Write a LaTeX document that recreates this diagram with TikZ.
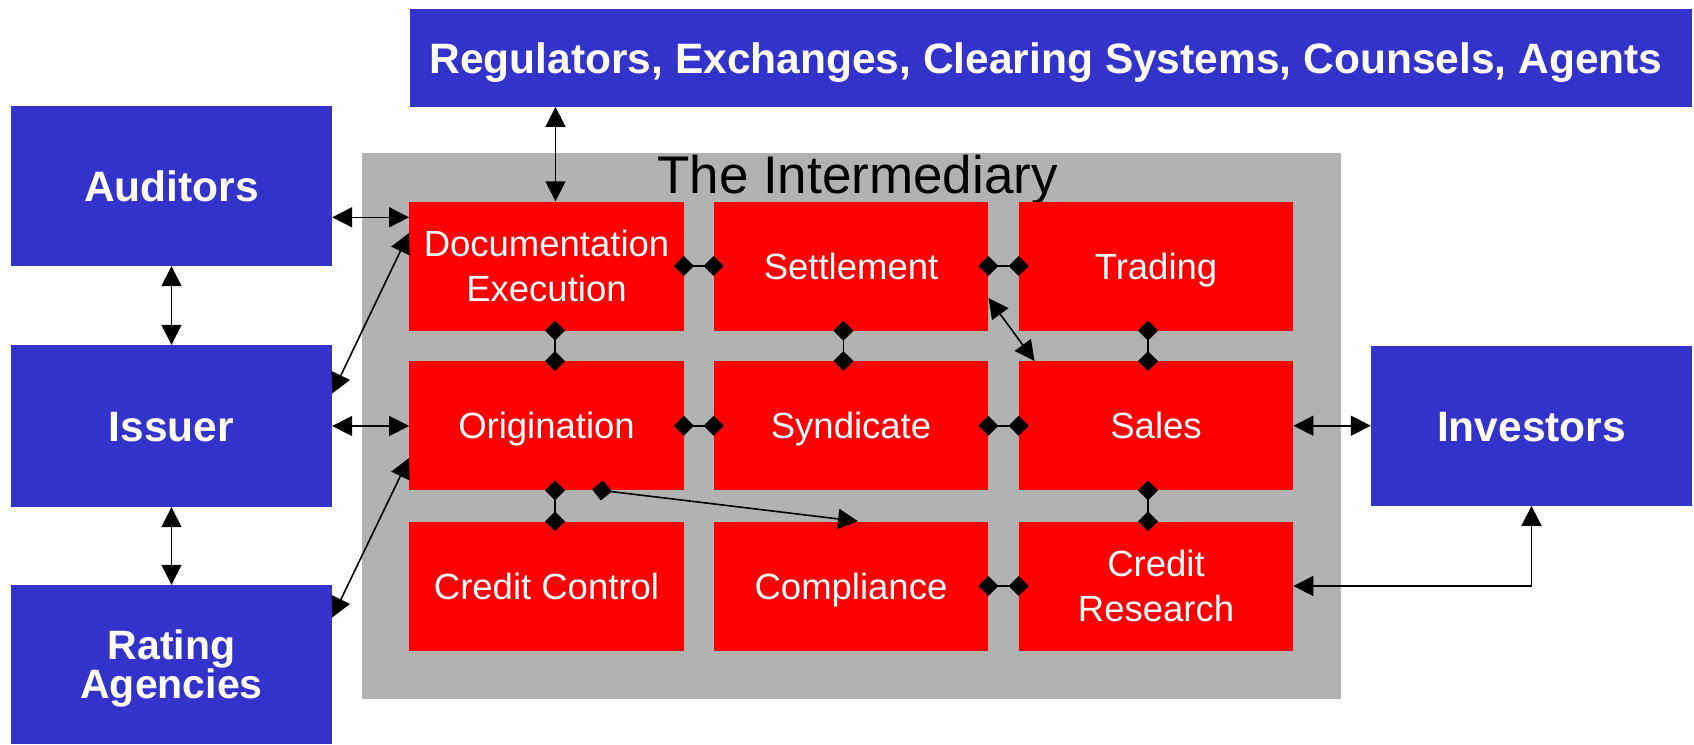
\documentclass[tikz,border=0pt]{standalone}
\usepackage{fontspec}
\setmainfont{Liberation Sans}
\usetikzlibrary{arrows.meta}

\definecolor{boxblue}{RGB}{51,51,204}
\definecolor{boxred}{RGB}{255,0,0}
\definecolor{panelgray}{RGB}{178,178,178}

% two centred lines, baseline taken from the first line, fixed line pitch
\newcommand\twoline[2]{\vtop{\lineskiplimit=-1000pt\halign{\hfil##\hfil\cr#1\cr#2\cr}}}

\tikzset{
  party/.style={fill=boxblue, text=white, inner sep=0pt,
    font=\fontsize{42.5}{34}\selectfont\bfseries,
    text height=30.4pt, text depth=0pt},
  unit/.style={fill=boxred, text=white, inner sep=0pt,
    minimum width=274.5pt, minimum height=129pt,
    font=\fontsize{36.5}{45}\selectfont,
    text height=26.1pt, text depth=0pt},
  unit2/.style={unit, text depth=45pt},
  panel/.style={fill=panelgray, inner sep=0pt},
  link/.style={line width=1.6pt,
    {Triangle[length=20pt,width=20pt]}-{Triangle[length=20pt,width=20pt]}},
  tie/.style={line width=1.6pt,
    {Diamond[length=20pt,width=20pt]}-{Diamond[length=20pt,width=20pt]},
    shorten <=-10pt, shorten >=-10pt},
  feed/.style={line width=1.6pt,
    {Diamond[length=20pt,width=20pt]}-{Triangle[length=20pt,width=20pt]},
    shorten <=-10pt},
}

\begin{document}
\begin{tikzpicture}[x=1pt,y=-1pt]
\useasboundingbox (0,0) rectangle (1694,744);

% the intermediary panel
\node[panel, minimum width=979pt, minimum height=546pt] (inter) at (851.5,426) {};
\node[anchor=base, inner sep=0pt, font=\fontsize{53}{60}\selectfont] (title) at (857.5,193) {The Intermediary};

% business units
\node[unit2] (doc)    at (546.5,266)    {\twoline{Documentation}{Execution}};
\node[unit]  (settle) at (851,266)      {Settlement};
\node[unit]  (trade)  at (1156,266)     {Trading};
\node[unit]  (orig)   at (546.5,425.75) {Origination};
\node[unit]  (synd)   at (851,425.75)   {Syndicate};
\node[unit]  (sales)  at (1156,425.75)  {Sales};
\node[unit]  (cctrl)  at (546.5,586)    {Credit Control};
\node[unit]  (compl)  at (851,586)      {Compliance};
\node[unit2] (cres)   at (1156,586)     {\twoline{Credit}{Research}};

% outside parties
\node[party, minimum width=1282pt, minimum height=97.7pt] (reg) at (1051,57.85)
  {Regulators, Exchanges, Clearing Systems, Counsels, Agents\hspace*{10pt}};
\node[party, minimum width=321pt, minimum height=160pt] (aud) at (171.5,186) {Auditors};
\node[party, minimum width=321pt, minimum height=162pt] (iss) at (171.5,426) {Issuer};
\node[party, minimum width=321pt, minimum height=159pt,
  font=\fontsize{41}{39}\selectfont\bfseries, text height=29.4pt, text depth=39pt] (rat) at (171.5,664.5)
  {\twoline{Rating}{Agencies}};
\node[party, minimum width=321pt, minimum height=159.7pt] (inv) at (1531.5,425.85) {Investors};

% attachment points
\coordinate (docTop)  at ([xshift=9pt]doc.north);
\coordinate (docLeft) at ([yshift=-16pt]doc.north west);
\coordinate (docDiag) at ([yshift=33pt]doc.west);
\coordinate (issDiag) at ([yshift=32.5pt]iss.east);
\coordinate (origDiag) at ([yshift=-32.25pt]orig.west);
\coordinate (ratDiag) at ([yshift=47pt]rat.east);
\coordinate (setDiag) at ([yshift=-32pt]settle.east);
\coordinate (salDiag) at ([xshift=16pt]sales.north west);
\coordinate (origOut) at ([xshift=55.5pt]orig.south);
\coordinate (complIn) at ([xshift=7pt]compl.north);

% links to outside parties
\draw[link] (docTop) -- (docTop |- reg.south);
\draw[link] (aud.east |- docLeft) -- (docLeft);
\draw[link] (aud.south) -- (iss.north);
\draw[link] (iss.south) -- (rat.north);
\draw[link] (iss.east) -- (iss.east -| orig.west);
\draw[link] (issDiag) -- (docDiag);
\draw[link] (ratDiag) -- (origDiag);
\draw[link] (sales.east) -- (sales.east -| inv.west);
\draw[link] (inv.south) |- (cres.east);
\draw[link] (setDiag) -- (salDiag);

% ties between units
\draw[tie] (doc.east) -- (settle.west);
\draw[tie] (settle.east) -- (trade.west);
\draw[tie] (orig.east) -- (synd.west);
\draw[tie] (synd.east) -- (sales.west);
\draw[tie] (compl.east) -- (cres.west);
\draw[tie] ([xshift=8.5pt]doc.south) -- ([xshift=8.5pt]orig.north);
\draw[tie] ([xshift=8.5pt]orig.south) -- ([xshift=8.5pt]cctrl.north);
\draw[tie] ([xshift=-7.7pt]settle.south) -- ([xshift=-7.7pt]synd.north);
\draw[tie] ([xshift=-8pt]trade.south) -- ([xshift=-8pt]sales.north);
\draw[tie] ([xshift=-8pt]sales.south) -- ([xshift=-8pt]cres.north);
\draw[feed] (origOut) -- (complIn);
\end{tikzpicture}
\end{document}
